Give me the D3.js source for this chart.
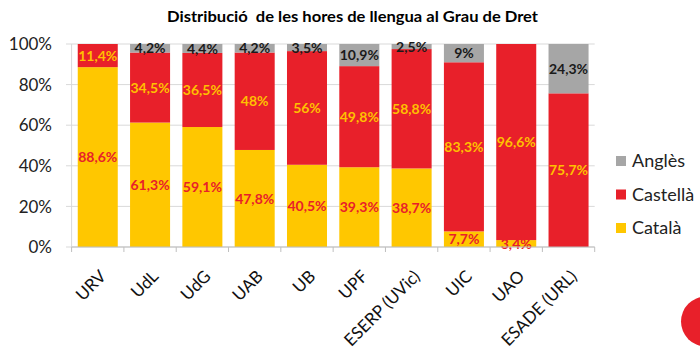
<!DOCTYPE html>
<html><head><meta charset="utf-8">
<script src="https://cdn.jsdelivr.net/npm/d3@7"></script>
<style>body{margin:0;background:#fff}svg{display:block}</style>
</head><body><svg id="c" width="700" height="355"></svg>
<script>
const title = "Distribució  de les hores de llengua al Grau de Dret";
const categories = ["URV","UdL","UdG","UAB","UB","UPF","ESERP (UVic)","UIC","UAO","ESADE (URL)"];
const catala   = [88.6, 61.3, 59.1, 47.8, 40.5, 39.3, 38.7, 7.7, 3.4, 0];
const castella = [11.4, 34.5, 36.5, 48, 56, 49.8, 58.8, 83.3, 96.6, 75.7];
const angles   = [0, 4.2, 4.4, 4.2, 3.5, 10.9, 2.5, 9, 0, 24.3];
const seriesNames = ["Català","Castellà","Anglès"];
const yTicks = [0,20,40,60,80,100];

const colors = {"Català":"#FFC700","Castellà":"#E8202A","Anglès":"#A6A6A6"};
const labelColors = {"Català":"#E8202A","Castellà":"#FFC000","Anglès":"#1a1a1a"};

const svg = d3.select("#c");
const x = d3.scaleBand().domain(categories).range([71.6,594.7]).paddingInner(0.235).paddingOuter(0.1175);
const y = d3.scaleLinear().domain([0,100]).range([247,44]);

const rows = categories.map((c,i)=>({cat:c,"Català":catala[i],"Castellà":castella[i],"Anglès":angles[i]}));
const stacked = d3.stack().keys(seriesNames)(rows);

// title
svg.append("text").attr("x",352.5).attr("y",21.5).attr("text-anchor","middle")
  .attr("textLength",371).attr("lengthAdjust","spacingAndGlyphs")
  .style("white-space","pre")
  .style("font-family","Lato").style("font-weight","bold").style("font-size","15.5px").style("fill","#000")
  .text(title);

// gridlines
svg.append("g").selectAll("line").data(yTicks).join("line")
  .attr("x1",66).attr("x2",594.7).attr("y1",d=>y(d)).attr("y2",d=>y(d))
  .attr("stroke","#D9D9D9").attr("stroke-width",1);
svg.append("line").attr("x1",71.6).attr("x2",71.6).attr("y1",y(100)).attr("y2",y(0)).attr("stroke","#D9D9D9");

// y labels
svg.append("g").selectAll("text").data(yTicks).join("text")
  .attr("x",52).attr("y",d=>y(d)).attr("dy","0.36em").attr("text-anchor","end")
  .style("font-family","Lato").style("font-size","17px").style("fill","#222")
  .text(d=>d+"%");

// bars
const g = svg.append("g");
stacked.forEach(s=>{
  g.append("g").selectAll("rect").data(s).join("rect")
    .attr("x",d=>x(d.data.cat)).attr("width",x.bandwidth())
    .attr("y",d=>y(d[1])).attr("height",d=>y(d[0])-y(d[1]))
    .attr("fill",colors[s.key]);
});

// x axis
const xa = svg.append("g").attr("transform","translate(0,247)");
xa.append("line").attr("x1",71.6).attr("x2",594.7).attr("y1",0).attr("y2",0).attr("stroke","#BFBFBF");
const edges = categories.map(c=>x(c)-x.step()*x.paddingInner()/2).concat([594.7]);
xa.selectAll("line.t").data(edges).join("line").attr("class","t")
  .attr("x1",d=>d).attr("x2",d=>d).attr("y1",0).attr("y2",5).attr("stroke","#BFBFBF");
xa.selectAll("text").data(categories).join("text")
  .attr("transform",d=>`translate(${x(d)+x.bandwidth()/2+1},22) rotate(-45)`)
  .attr("text-anchor","end").attr("dy","0.7em")
  .style("font-family","Lato").style("font-size","17px").style("fill","#111")
  .text(d=>d);

// labels
const fmt = v => String(v).replace(".",",")+"%";
stacked.forEach(s=>{
  g.append("g").selectAll("text").data(s.filter(d=>d[1]-d[0]>0)).join("text")
    .attr("x",d=>x(d.data.cat)+x.bandwidth()/2)
    .attr("y",d=>y((d[0]+d[1])/2)).attr("dy","0.36em").attr("text-anchor","middle")
    .style("font-family","Lato").style("font-weight","bold").style("font-size","14px")
    .style("fill",labelColors[s.key])
    .text(d=>fmt(+(d[1]-d[0]).toFixed(1)));
});

// legend
const legendOrder = ["Anglès","Castellà","Català"];
const lg = svg.append("g");
legendOrder.forEach((k,i)=>{
  const cy = 161 + i*33.5;
  lg.append("rect").attr("x",616).attr("y",cy-5).attr("width",10).attr("height",10).attr("fill",colors[k]);
  lg.append("text").attr("x",632).attr("y",cy).attr("dy","0.36em")
    .style("font-family","Lato").style("font-size","18px").style("fill","#222").text(k);
});

// decorative corner shape
svg.append("ellipse").attr("cx",706).attr("cy",321.5).attr("rx",25).attr("ry",25).attr("fill","#E8202A");
</script></body></html>
